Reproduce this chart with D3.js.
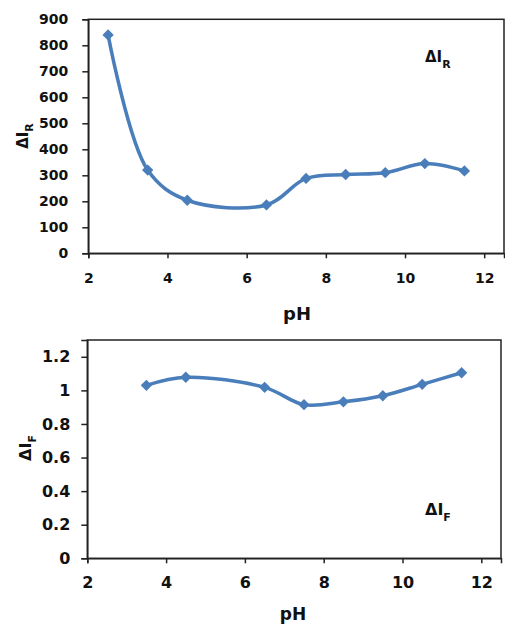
<!DOCTYPE html>
<html>
<head>
<meta charset="utf-8">
<script src="https://cdn.jsdelivr.net/npm/d3@7"></script>
<style>
body { margin: 0; background: #fff; }
svg { display: block; }
.tick text { font-family: "DejaVu Sans", sans-serif; font-weight: bold; fill: #111; }
.lbl { font-family: "DejaVu Sans", sans-serif; font-weight: bold; fill: #111; }
</style>
</head>
<body>
<svg width="505" height="629"></svg>
<script>
// top panel
const phR = [2.5, 3.5, 4.5, 6.5, 7.5, 8.5, 9.5, 10.5, 11.5];
const dIR = [840, 320, 204, 186, 288, 303, 310, 345, 317];
const yTicksR = [0, 100, 200, 300, 400, 500, 600, 700, 800, 900];

// bottom panel
const phF = [3.5, 4.5, 6.5, 7.5, 8.5, 9.5, 10.5, 11.5];
const dIF = [1.03, 1.078, 1.018, 0.915, 0.932, 0.968, 1.036, 1.105];
const yTicksF = [0, 0.2, 0.4, 0.6, 0.8, 1, 1.2];

const xTicks = [2, 4, 6, 8, 10, 12];
const blue = "#4a7ebb";

const svg = d3.select("svg");

function panel(o) {
	const x = d3.scaleLinear().domain([2, 12.5]).range([o.left, o.right]);
	const y = d3.scaleLinear().domain([0, o.ymax]).range([o.bottom, o.top]);
	const g = svg.append("g");

	// frame
	g.append("rect")
		.attr("x", o.left).attr("y", o.top)
		.attr("width", o.right - o.left).attr("height", o.bottom - o.top)
		.attr("fill", "none").attr("stroke", "#222").attr("stroke-width", 1.5);

	const ya = g.append("g")
		.attr("transform", `translate(${o.left},0)`)
		.call(d3.axisLeft(y).tickValues(o.yTicks).tickSizeOuter(0).tickSize(6).tickPadding(o.yPad).tickFormat(d3.format("")));
	ya.selectAll("text").style("font-size", o.fs + "px");

	const xa = g.append("g")
		.attr("transform", `translate(0,${o.bottom})`)
		.call(d3.axisBottom(x).tickValues(xTicks).tickSizeOuter(0).tickSize(5).tickPadding(o.xPad));
	xa.selectAll("text").style("font-size", o.fs + "px");
	g.selectAll(".domain").attr("stroke", "#222").attr("stroke-width", 1.5);
	g.selectAll(".tick line").attr("stroke", "#222").attr("stroke-width", 1.5);

	const pts = o.xs.map((v, i) => [v, o.ys[i]]);
	g.append("path")
		.datum(pts)
		.attr("fill", "none")
		.attr("stroke", blue)
		.attr("stroke-width", 3.5)
		.attr("d", d3.line().x(d => x(d[0])).y(d => y(d[1])).curve(d3.curveCatmullRom.alpha(0.5)));

	g.selectAll("path.pt")
		.data(pts)
		.enter()
		.append("path")
		.attr("class", "pt")
		.attr("d", d3.symbol(d3.symbolSquare, 64))
		.attr("fill", blue)
		.attr("transform", d => `translate(${x(d[0])},${y(d[1])}) rotate(45)`);

	// x title
	g.append("text").attr("class", "lbl")
		.attr("x", o.pHx).attr("y", o.pHy)
		.attr("text-anchor", "middle").style("font-size", o.tfs + "px")
		.text("pH");

	// y title
	const yt = g.append("text").attr("class", "lbl")
		.attr("transform", `translate(${o.ytx},${o.yty}) rotate(-90)`)
		.attr("text-anchor", "middle").style("font-size", o.lfs + "px");
	yt.append("tspan").text("ΔI");
	yt.append("tspan").attr("dy", 5).style("font-size", "11px").text(o.sub);

	// inner label
	const it = g.append("text").attr("class", "lbl")
		.attr("x", o.inx).attr("y", o.iny).style("font-size", o.lfs + "px");
	it.append("tspan").text("ΔI");
	it.append("tspan").attr("dy", 6).style("font-size", "11px").text(o.sub);
}

panel({
	xs: phR, ys: dIR, yTicks: yTicksR, ymax: 900,
	left: 88.3, right: 504, top: 19.3, bottom: 253.3,
	fs: 14, yPad: 14, xPad: 15, tfs: 18, lfs: 15,
	pHx: 297, pHy: 320, ytx: 28, yty: 136,
	inx: 425, iny: 62, sub: "R"
});

panel({
	xs: phF, ys: dIF, yTicks: yTicksF, ymax: 1.3,
	left: 87.3, right: 501, top: 340, bottom: 558.3,
	fs: 16, yPad: 11, xPad: 13, tfs: 17, lfs: 16,
	pHx: 293, pHy: 620, ytx: 31, yty: 448,
	inx: 425, iny: 515, sub: "F"
});
</script>
</body>
</html>
